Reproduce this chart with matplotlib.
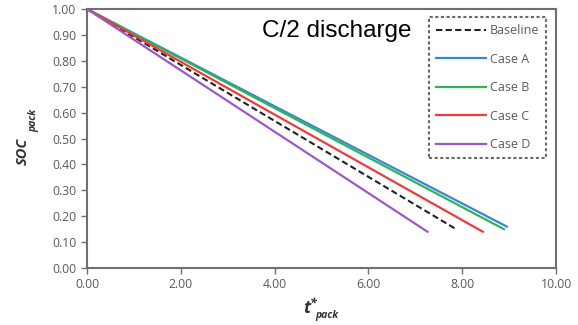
import matplotlib
matplotlib.use("Agg")
import matplotlib.pyplot as plt

# end points (lines are nearly straight)
series = ["Baseline", "Case A", "Case B", "Case C", "Case D"]
t_end = [7.87, 8.95, 8.89, 8.44, 7.26]
soc_end = [0.15, 0.16, 0.15, 0.14, 0.14]
colors = ["#222222", "#3a86d0", "#2db45a", "#f03a3a", "#9b59c8"]
styles = ["--", "-", "-", "-", "-"]

x_ticks = [0, 2, 4, 6, 8, 10]
y_ticks = [i / 10 for i in range(11)]

W, H = 578, 325
fig = plt.figure(figsize=(W / 100, H / 100), dpi=100)
ax = fig.add_axes([87 / W, 1 - 268 / H, (556 - 87) / W, (268 - 9) / H])

for name, te, se, c, ls in zip(series, t_end, soc_end, colors, styles):
    if ls == "--":
        ax.plot([0, te], [1.0, se], color=c, lw=1.5, dashes=(3, 1.6), label=name)
    else:
        ax.plot([0, te], [1.0, se], color=c, lw=1.6, label=name)

ax.set_xlim(0, 10)
ax.set_ylim(0, 1)
ax.set_xticks(x_ticks)
ax.set_yticks(y_ticks)
ax.set_xticklabels([f"{v:.2f}" for v in x_ticks])
ax.set_yticklabels([f"{v:.2f}" for v in y_ticks])
ax.tick_params(labelsize=8.8, labelcolor="#5a5a5a", color="#707070",
               direction="out", length=4, width=1)
for lab in ax.get_xticklabels() + ax.get_yticklabels():
    lab.set_family("Open Sans")
for s in ax.spines.values():
    s.set_color("#707070")
    s.set_linewidth(1.5)

# axis titles drawn piece by piece (italic bold with subscript)
lab_kw = dict(fontweight="bold", style="italic", family="Open Sans", color="#333333")
fig.text(306.5 / W, 1 - 313 / H, "t", fontsize=12.5, ha="center", va="baseline", **lab_kw)
fig.text(313 / W, 1 - 308 / H, "*", fontsize=9, ha="center", va="baseline", **lab_kw)
fig.text(315 / W, 1 - 318 / H, "pack", fontsize=7.5, ha="left", va="baseline", **lab_kw)
fig.text(22.5 / W, 1 - 151 / H, "SOC", fontsize=10.5, rotation=90,
         ha="center", va="center", **lab_kw)
fig.text(34 / W, 1 - 120 / H, "pack", fontsize=7.5, rotation=90,
         ha="center", va="center", **lab_kw)

leg = ax.legend(loc="upper right", bbox_to_anchor=(0.979, 0.969), fontsize=9,
                frameon=True, fancybox=False, handlelength=4.0, handletextpad=0.3,
                labelspacing=1.25, borderpad=0.55, borderaxespad=0)
for txt in leg.get_texts():
    txt.set_color("#5a5a5a")
    txt.set_family("Open Sans")
fr = leg.get_frame()
fr.set_edgecolor("#444444")
fr.set_linestyle((0, (1.5, 1.2)))
fr.set_linewidth(1.5)

ax.text((262 - 87) / 469, (268 - 37) / 259, "C/2 discharge", transform=ax.transAxes,
        fontsize=17.5, family="Liberation Sans", va="baseline", ha="left", color="black")

fig.savefig("out.png", dpi=100)
